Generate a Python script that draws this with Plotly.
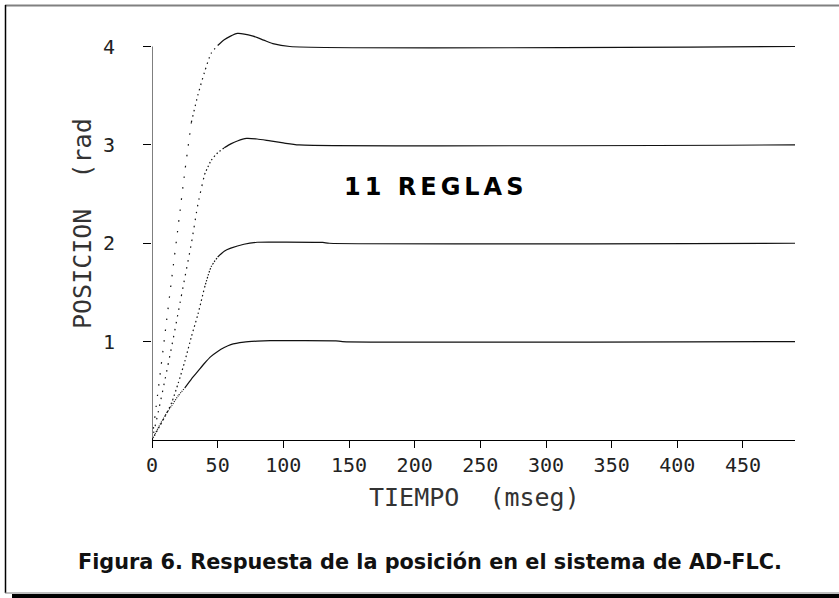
import plotly.graph_objects as go

# ---- data ----
t1 = [0, 5, 10, 15, 20, 25, 30, 35, 40, 45, 50, 55, 60, 70, 80, 90, 100, 140, 145, 490]
v1 = [0, 0.13, 0.25, 0.35, 0.45, 0.53, 0.62, 0.70, 0.78, 0.85, 0.90, 0.94, 0.97, 0.995, 1.005, 1.01, 1.01, 1.008, 1.0, 1.0]

t2 = [0, 5, 10, 15, 20, 25, 30, 35, 40, 45, 50, 55, 60, 70, 80, 90, 130, 135, 490]
v2 = [0, 0.12, 0.24, 0.38, 0.58, 0.80, 1.05, 1.28, 1.55, 1.76, 1.86, 1.92, 1.95, 1.99, 2.01, 2.012, 2.008, 2.0, 2.0]

t3 = [0, 5, 10, 15, 20, 25, 30, 35, 40, 45, 50, 55, 60, 65, 72, 80, 90, 100, 112, 490]
v3 = [0, 0.30, 0.62, 0.95, 1.30, 1.65, 2.00, 2.40, 2.70, 2.84, 2.92, 2.97, 3.01, 3.04, 3.066, 3.06, 3.04, 3.02, 3.0, 3.0]

t4 = [0, 5, 10, 15, 20, 25, 30, 35, 40, 45, 50, 55, 65, 77, 85, 92, 105, 490]
v4 = [0, 0.54, 1.09, 1.64, 2.18, 2.73, 3.23, 3.51, 3.74, 3.93, 4.01, 4.07, 4.133, 4.105, 4.065, 4.03, 4.0, 4.0]

x_ticks = [0, 50, 100, 150, 200, 250, 300, 350, 400, 450]
x_tick_labels = ["0", "50", "100", "150", "200", "250", "300", "350", "400", "450"]
y_ticks = [1, 2, 3, 4]
y_tick_labels = ["1", "2", "3", "4"]

x_title = "TIEMPO\u00a0 (mseg)"
y_title = "POSICION\u00a0 (rad"
label_text = "11 REGLAS"
caption = "Figura 6. Respuesta de la posición en el sistema de AD-FLC."

# ---- styling: dotted appearance where the sampled curve is steep ----
curves = [
    (t1, v1, [(0, 25, "1px,1.2px"), (25, 490, "solid")]),
    (t2, v2, [(0, 40, "1.5px,3px"), (40, 50, "1.5px,1.6px"), (50, 490, "solid")]),
    (t3, v3, [(0, 40, "1.5px,5.5px"), (40, 55, "1.5px,2.5px"), (55, 490, "solid")]),
    (t4, v4, [(0, 30, "1.5px,9.5px"), (30, 50, "1.5px,4px"), (50, 490, "solid")]),
]

fig = go.Figure()
for t, v, segs in curves:
    for a, b, dash in segs:
        xs = [ti for ti in t if a <= ti <= b]
        ys = [vi for ti, vi in zip(t, v) if a <= ti <= b]
        fig.add_trace(go.Scatter(
            x=xs, y=ys, mode="lines",
            line=dict(color="#111111", width=1.2, dash=dash, shape="spline", smoothing=0.6),
            hoverinfo="skip", showlegend=False))

W, H = 839, 598
L, R, T, B = 152, 44, 17, 158
PW, PH = W - L - R, H - T - B


def px(x):
    return (x - L) / PW


def py(y):
    return (H - B - y) / PH


mono = "DejaVu Sans Mono"

fig.update_layout(
    width=W, height=H,
    margin=dict(l=L, r=R, t=T, b=B),
    paper_bgcolor="white", plot_bgcolor="white",
    showlegend=False,
    xaxis=dict(range=[0, 489.6], tickvals=x_ticks, ticktext=x_tick_labels,
               ticks="outside", ticklen=7, tickcolor="black", tickwidth=1,
               showline=True, linecolor="black", linewidth=1,
               showgrid=False, zeroline=False,
               tickfont=dict(family=mono, size=20, color="#222222"),
               ticklabelstandoff=0),
    yaxis=dict(range=[0, 4.3], tickvals=y_ticks, ticktext=y_tick_labels,
               ticks="outside", ticklen=8, tickcolor="black", tickwidth=1,
               showline=False, showgrid=False, zeroline=False,
               tickfont=dict(family=mono, size=20, color="#222222"),
               ticklabelstandoff=24),
)

# y axis line only up to 4
fig.add_shape(type="line", xref="x", yref="y", x0=0, x1=0, y0=0, y1=4,
              line=dict(color="black", width=1))

# page frame
fig.add_shape(type="line", xref="paper", yref="paper", x0=px(5), x1=px(845), y0=py(5.5), y1=py(5.5),
              line=dict(color="#808080", width=2))
fig.add_shape(type="line", xref="paper", yref="paper", x0=px(5.5), x1=px(5.5), y0=py(5), y1=py(593),
              line=dict(color="black", width=1.5))
fig.add_shape(type="line", xref="paper", yref="paper", x0=px(5), x1=px(845), y0=py(593), y1=py(593),
              line=dict(color="#808080", width=1))
fig.add_shape(type="line", xref="paper", yref="paper", x0=px(12), x1=px(845), y0=py(596), y1=py(596),
              line=dict(color="black", width=4))

fig.add_annotation(xref="paper", yref="paper", x=px(82), y=py(224), text=y_title, textangle=-90,
                   showarrow=False, xanchor="center", yanchor="middle",
                   font=dict(family=mono, size=25, color="#333333"))
fig.add_annotation(xref="paper", yref="paper", x=px(474), y=py(497), text=x_title,
                   showarrow=False, xanchor="center", yanchor="middle",
                   font=dict(family=mono, size=25, color="#333333"))
fig.add_annotation(xref="paper", yref="paper", x=px(435), y=py(186.5),
                   text='<b><span style="letter-spacing:4px">' + label_text + '</span></b>',
                   showarrow=False, xanchor="center", yanchor="middle",
                   font=dict(family="DejaVu Sans", size=24, color="black"))
fig.add_annotation(xref="paper", yref="paper", x=px(430), y=py(562), text="<b>" + caption + "</b>",
                   showarrow=False, xanchor="center", yanchor="middle",
                   font=dict(family="DejaVu Sans", size=20.8, color="#111111"))

fig.write_html("out.html", config={"displayModeBar": False},
               post_script="document.body.style.margin='0px';document.body.style.overflow='hidden';")
